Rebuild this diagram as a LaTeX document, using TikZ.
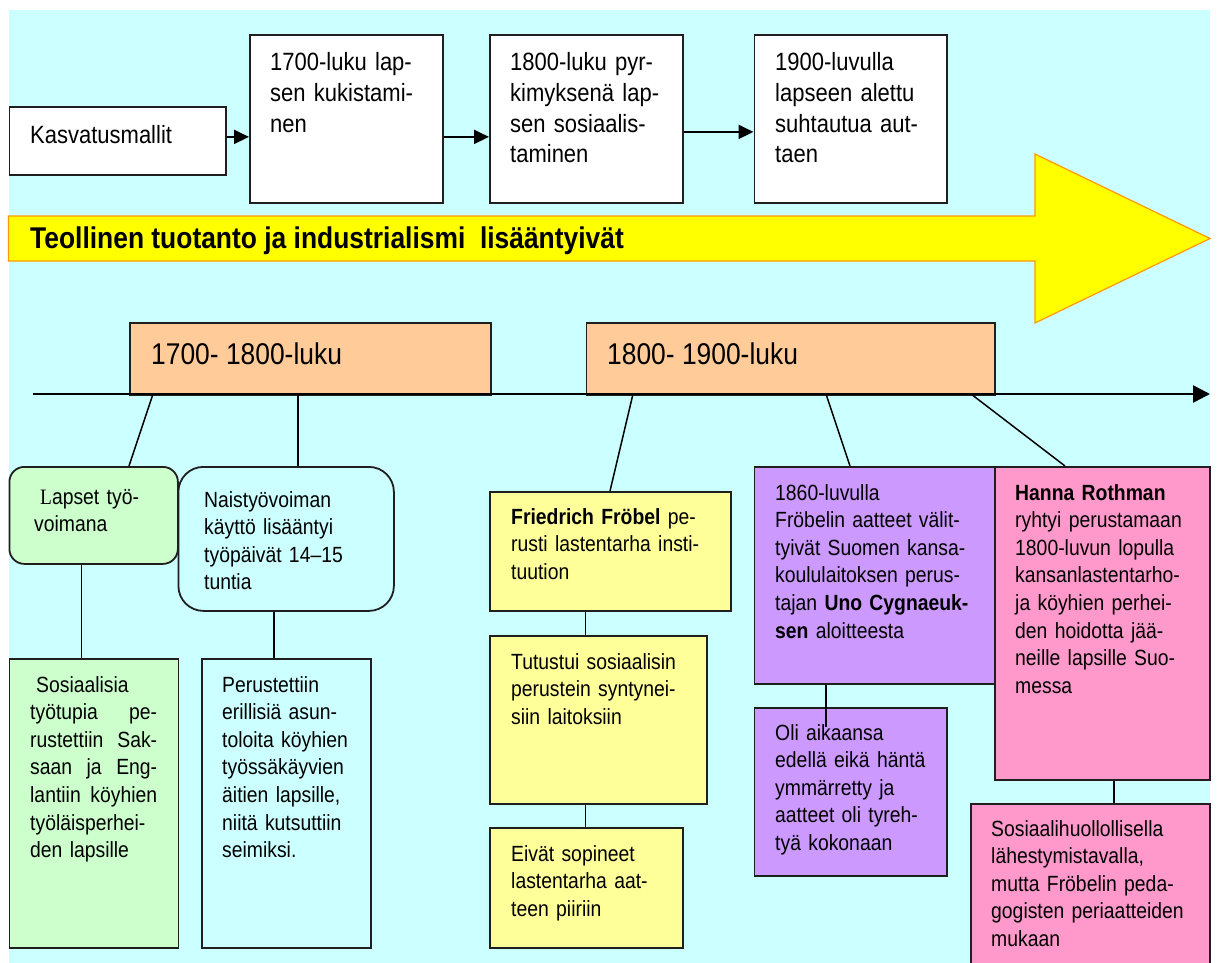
\documentclass[tikz,border=0pt]{standalone}
\usepackage{fontspec}
\setmainfont{Liberation Sans}[FakeStretch=0.88]
\newfontfamily\serifL{Liberation Serif}[FakeStretch=0.88]
\usetikzlibrary{arrows.meta}
\definecolor{bgc}{HTML}{CCFFFF}
\definecolor{perc}{HTML}{FFCC99}
\definecolor{grc}{HTML}{CCFFCC}
\definecolor{ylc}{HTML}{FFFF99}
\definecolor{puc}{HTML}{CC99FF}
\definecolor{pkc}{HTML}{FF99CC}
\definecolor{arrc}{HTML}{FFFF00}
\definecolor{arrb}{HTML}{FF9900}
\newcommand{\jline}[1]{\makebox[127pt][l]{#1}}
\begin{document}
\begin{tikzpicture}[x=1pt,y=-1pt,
  box/.style={draw=black!88, line width=1.8pt, inner sep=0pt, anchor=north west},
  txt/.style={anchor=base west, inner sep=0pt, text width=300pt, align=left, font=\fontsize{22pt}{27.6pt}\selectfont},
  toptxt/.style={anchor=base west, inner sep=0pt, text width=300pt, align=left, font=\fontsize{25pt}{30.6pt}\selectfont},
  bigtxt/.style={anchor=base west, inner sep=0pt, font=\fontsize{30pt}{36pt}\selectfont},
  conn/.style={draw=black, line width=1.5pt},
  arr/.style={draw=black, line width=2pt, -{Triangle[length=15pt,width=14pt]}}
]
\useasboundingbox (0,0) rectangle (1218,963);
\fill[bgc] (8.5,10) rectangle (1210,963);

% top row
\node[box, fill=white, minimum width=216.5pt, minimum height=68pt] (kas) at (8.5,106) {};
\node[box, fill=white, minimum width=193pt, minimum height=168pt] (b1700) at (249,34) {};
\node[box, fill=white, minimum width=193pt, minimum height=168pt] (b1800) at (489,34) {};
\node[box, fill=white, minimum width=192.5pt, minimum height=168pt] (b1900) at (753.5,34) {};
\node[toptxt] (kast) at (30,144) {Kasvatusmallit};
\node[toptxt] (t1700) at (270,71) {1700-luku lap-\\sen kukistami-\\nen};
\node[toptxt] (t1800) at (510,71) {1800-luku pyr-\\kimyksenä lap-\\sen sosiaalis-\\taminen};
\node[toptxt] (t1900) at (775,71) {1900-luvulla\\lapseen alettu\\suhtautua aut-\\taen};
\draw[arr] ([yshift=4pt]kas.east) -- ([yshift=4pt]kas.east -| b1700.west);
\draw[arr] ([yshift=-18pt]b1700.east) -- ([yshift=-18pt]b1700.east -| b1800.west);
\draw[arr] ([yshift=-13pt]b1800.east) -- ([yshift=-13pt]b1800.east -| b1900.west);

% big yellow arrow
\filldraw[fill=arrc, draw=arrb, line width=1.2pt, line join=miter]
  (8.5,216) -- (1035,216) -- (1035,154) -- (1210,238.5) -- (1035,323) -- (1035,261) -- (8.5,261) -- cycle;
\node[bigtxt, font=\bfseries\fontsize{30pt}{36pt}\selectfont] (title) at (30,248.7) {Teollinen tuotanto ja industrialismi\ \ lisääntyivät};

% period boxes
\node[box, fill=perc, minimum width=361pt, minimum height=72pt] (p1) at (129,322) {};
\node[box, fill=perc, minimum width=408.4pt, minimum height=72pt] (p2) at (585.6,322) {};
\node[bigtxt] (p1t) at (151,364) {1700- 1800-luku};
\node[bigtxt] (p2t) at (607,364) {1800- 1900-luku};

% timeline
\coordinate (tl0) at (32.6,394);
\coordinate (tl1) at (1210,394);
\draw[line width=2.6pt, -{Triangle[length=17pt,width=17pt]}] (tl0) -- (tl1);
\coordinate (c1) at (153,394);
\coordinate (c2) at (298,394);
\coordinate (c3) at (633,394);
\coordinate (c4) at (826,394);
\coordinate (c5) at (971,394);

% lower boxes, left part
\node[box, fill=grc, rounded corners=15pt, minimum width=168.5pt, minimum height=97pt] (lapset) at (8.5,466) {};
\node[box, fill=bgc, rounded corners=25pt, minimum width=215.5pt, minimum height=144pt] (naist) at (177.5,466) {};
\node[box, fill=grc, minimum width=169pt, minimum height=289pt] (sos) at (8.5,658) {};
\node[box, fill=bgc, minimum width=169pt, minimum height=289pt] (perus) at (201,658) {};

% middle
\node[box, fill=ylc, minimum width=241pt, minimum height=119pt] (fried) at (489,491) {};
\node[box, fill=ylc, minimum width=217pt, minimum height=168pt] (tutus) at (489,635) {};
\node[box, fill=ylc, minimum width=193pt, minimum height=120pt] (eivat) at (489,827) {};

% right
\node[box, fill=puc, minimum width=240.5pt, minimum height=217pt] (purp1) at (753.5,466) {};
\node[box, fill=puc, minimum width=192.5pt, minimum height=168pt] (purp2) at (753.5,707) {};
\node[box, fill=pkc, minimum width=215pt, minimum height=313pt] (pink1) at (994,466) {};
\node[box, fill=pkc, minimum width=239pt, minimum height=175pt] (pink2) at (970,803) {};

% connectors
\draw[conn] (c1) -- ([xshift=120.5pt]lapset.north west);
\draw[conn] (c2) -- ([xshift=120.5pt]naist.north west);
\draw[conn] (c3) -- ([xshift=121pt]fried.north west);
\draw[conn] (c4) -- ([xshift=96.5pt]purp1.north west);
\draw[conn] (c5) -- ([xshift=71pt]pink1.north west);
\draw[conn] ([xshift=73pt]lapset.south west) -- ([xshift=73pt]sos.north west);
\draw[conn] ([xshift=96.5pt]naist.south west) -- ([xshift=73pt]perus.north west);
\draw[conn] ([xshift=96.6pt]fried.south west) -- ([xshift=96.6pt]tutus.north west);
\draw[conn] ([xshift=96.6pt]tutus.south west) -- ([xshift=96.6pt]eivat.north west);
\draw[conn] ([xshift=72.5pt]purp1.south west) -- ([xshift=72.5pt,yshift=-20pt]purp2.north west);
\draw[conn] ([xshift=120pt]pink1.south west) -- ([xshift=144pt]pink2.north west);

% texts
\node[txt] (lapsett) at (34,504) {\hspace*{6pt}{\serifL L}apset työ-\\voimana};
\node[txt] (naistt) at (204,507) {Naistyövoiman\\käyttö lisääntyi\\työpäivät 14–15\\tuntia};
\node[txt] (sost) at (30,692) {\hspace*{6pt}Sosiaalisia\\\jline{työtupia\hfill pe-}\\\jline{rustettiin\hfill Sak-}\\\jline{saan\hfill ja\hfill Eng-}\\\jline{lantiin\hfill köyhien}\\työläisperhei-\\den lapsille};
\node[txt] (perust) at (222,692) {Perustettiin\\erillisiä asun-\\toloita köyhien\\työssäkäyvien\\äitien lapsille,\\niitä kutsuttiin\\seimiksi.};
\node[txt, font=\fontsize{22pt}{27.8pt}\selectfont] (friedt) at (511,524) {\textbf{Friedrich Fröbel} pe-\\rusti lastentarha insti-\\tuution};
\node[txt, font=\fontsize{22pt}{27.8pt}\selectfont] (tutust) at (511,669) {Tutustui sosiaalisin\\perustein syntynei-\\siin laitoksiin};
\node[txt, font=\fontsize{22pt}{27.8pt}\selectfont] (eivatt) at (511,861) {Eivät sopineet\\lastentarha aat-\\teen piiriin};
\node[txt] (purp1t) at (775,500) {1860-luvulla\\Fröbelin aatteet välit-\\tyivät Suomen kansa-\\koululaitoksen perus-\\tajan \textbf{Uno Cygnaeuk-}\\\textbf{sen} aloitteesta};
\node[txt] (pink1t) at (1015,500) {\textbf{Hanna Rothman}\\ryhtyi perustamaan\\1800-luvun lopulla\\kansanlastentarho-\\ja köyhien perhei-\\den hoidotta jää-\\neille lapsille Suo-\\messa};
\node[txt] (purp2t) at (775,740) {Oli aikaansa\\edellä eikä häntä\\ymmärretty ja\\aatteet oli tyreh-\\tyä kokonaan};
\node[txt] (pink2t) at (991,836) {Sosiaalihuollollisella\\lähestymistavalla,\\mutta Fröbelin peda-\\gogisten periaatteiden\\mukaan};
\end{tikzpicture}
\end{document}
